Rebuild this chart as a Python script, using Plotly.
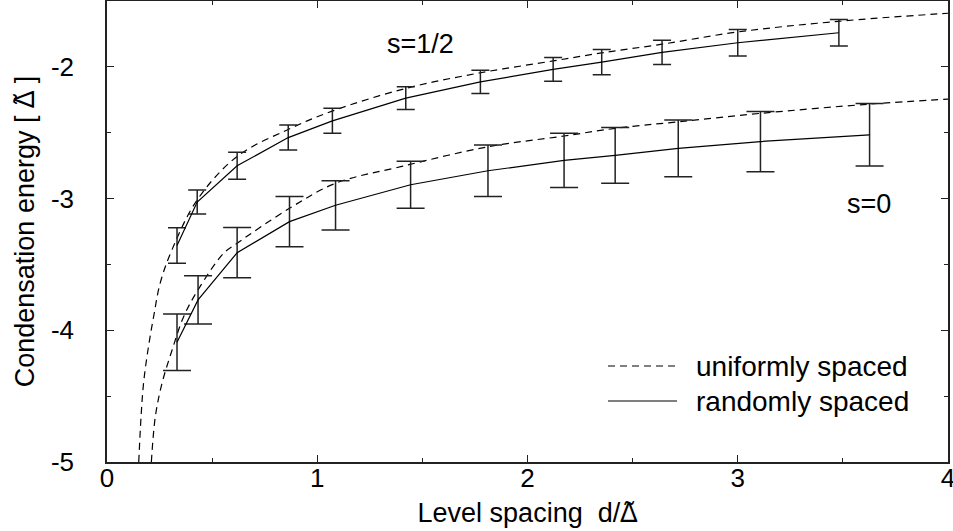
import plotly.graph_objects as go

# ---- data ----
# randomly spaced, s=1/2
half_rand_x = [0.333, 0.429, 0.619, 0.862, 1.072, 1.421, 1.776, 2.122, 2.353, 2.640, 3.000, 3.481]
half_rand_y = [-3.356, -3.026, -2.751, -2.537, -2.410, -2.237, -2.114, -2.019, -1.964, -1.890, -1.817, -1.741]
half_rand_err = [0.135, 0.091, 0.102, 0.095, 0.095, 0.086, 0.088, 0.090, 0.095, 0.092, 0.100, 0.100]

# randomly spaced, s=0
zero_rand_x = [0.333, 0.433, 0.619, 0.868, 1.087, 1.444, 1.812, 2.174, 2.417, 2.717, 3.108, 3.627]
zero_rand_y = [-4.091, -3.769, -3.411, -3.175, -3.051, -2.895, -2.789, -2.710, -2.672, -2.619, -2.567, -2.516]
zero_rand_err = [0.214, 0.183, 0.191, 0.190, 0.187, 0.179, 0.196, 0.205, 0.212, 0.215, 0.229, 0.237]

# uniformly spaced, s=1/2
half_unif_x = [0.151, 0.162, 0.174, 0.195, 0.222, 0.253, 0.309, 0.429, 0.619, 0.862, 1.071,
               1.420, 1.776, 2.122, 2.352, 2.640, 3.000, 3.480, 4.000]
half_unif_y = [-5.000, -4.654, -4.400, -4.148, -3.894, -3.642, -3.389, -3.010, -2.680, -2.475, -2.336,
               -2.164, -2.045, -1.955, -1.894, -1.828, -1.735, -1.654, -1.593]

# uniformly spaced, s=0
zero_unif_x = [0.211, 0.230, 0.262, 0.310, 0.365, 0.433, 0.555, 0.619, 0.868, 1.087, 1.397,
               1.812, 2.174, 2.417, 2.717, 3.108, 3.627, 4.000]
zero_unif_y = [-5.000, -4.654, -4.400, -4.148, -3.895, -3.693, -3.415, -3.339, -3.074, -2.884, -2.758,
               -2.607, -2.525, -2.467, -2.417, -2.353, -2.283, -2.245]

x_tickvals = [0, 1, 2, 3, 4]
x_ticktext = ["0", "1", "2", "3", "4"]
y_tickvals = [-5, -4, -3, -2]
y_ticktext = ["-5", "-4", "-3", "-2"]

label_half = "s=1/2"
label_zero = "s=0"
legend_labels = ["uniformly spaced", "randomly spaced"]

FONT = "Liberation Sans, Arial, Helvetica, sans-serif"
DELTA = "<span style=\"font-family:'Noto Sans'\">\u0394\u0303</span>"

fig = go.Figure()

dash = "7px,5px"
for xs, ys in [(half_unif_x, half_unif_y), (zero_unif_x, zero_unif_y)]:
    fig.add_trace(go.Scatter(x=xs, y=ys, mode="lines", line=dict(color="black", width=1.2, dash=dash),
                             line_shape="spline", showlegend=False, hoverinfo="skip"))

for xs, ys, es, cap in [(half_rand_x, half_rand_y, half_rand_err, 9),
                        (zero_rand_x, zero_rand_y, zero_rand_err, 14)]:
    fig.add_trace(go.Scatter(x=xs, y=ys, mode="lines", line=dict(color="black", width=1.2),
                             error_y=dict(type="data", array=es, symmetric=True, color="#222",
                                          thickness=1.5, width=cap),
                             showlegend=False, hoverinfo="skip"))

TXT = 27
# text labels
fig.add_annotation(x=1.493, y=-1.828, text=label_half, showarrow=False,
                   font=dict(family=FONT, size=TXT, color="black"))
fig.add_annotation(x=3.626, y=-3.04, text=label_zero, showarrow=False,
                   font=dict(family=FONT, size=TXT, color="black"))

# manual legend (paper coords)
def px2paper_x(px):
    return (px - 107) / 841.0

def px2paper_y(py):
    return (462 - py) / 461.0

for i, (lab, dsh) in enumerate(zip(legend_labels, [dash, "solid"])):
    py = [366, 401][i]
    fig.add_shape(type="line", xref="paper", yref="paper",
                  x0=px2paper_x(608), x1=px2paper_x(677), y0=px2paper_y(py), y1=px2paper_y(py),
                  line=dict(color="black", width=1.2, dash=dsh))
    fig.add_annotation(xref="paper", yref="paper", x=px2paper_x(695), y=px2paper_y(py),
                       text=lab, showarrow=False, xanchor="left", yanchor="middle",
                       borderpad=0, font=dict(family=FONT, size=28, color="black"))

axis_common = dict(showline=True, linecolor="#222", linewidth=1.5, mirror="ticks",
                   ticks="inside", ticklen=7, tickwidth=1.2, tickcolor="#222",
                   showgrid=False, zeroline=False, automargin=False,
                   ticklabeloverflow="allow",
                   tickfont=dict(family=FONT, size=26, color="black"),
                   minor=dict(ticks="inside", ticklen=4, tickwidth=1.2, tickcolor="#222", dtick=0.5,
                              showgrid=False))

fig.update_xaxes(range=[0, 4], tickmode="array", tickvals=x_tickvals, ticktext=x_ticktext,
                 ticklabelstandoff=-8,
                 title=dict(text="Level spacing\u00a0\u00a0d/" + DELTA,
                            font=dict(family=FONT, size=TXT, color="black"), standoff=4),
                 **axis_common)
fig.update_yaxes(range=[-5, -1.5], tickmode="array", tickvals=y_tickvals, ticktext=y_ticktext,
                 ticklabelstandoff=26,
                 title=dict(text="Condensation energy [\u00a0" + DELTA + "\u00a0]",
                            font=dict(family=FONT, size=TXT, color="black"), standoff=8),
                 **axis_common)

fig.update_layout(width=953, height=531, margin=dict(l=107, r=5, t=1, b=69, autoexpand=False),
                  plot_bgcolor="white", paper_bgcolor="white", showlegend=False)

fig.write_html("out.html", config={"displayModeBar": False})

# remove the default page margin so the figure sits at the window's top-left corner
with open("out.html", "r", encoding="utf-8") as f:
    html = f.read()
html = html.replace("<body>", "<body style=\"margin:0;padding:0;overflow:hidden\">", 1)
with open("out.html", "w", encoding="utf-8") as f:
    f.write(html)
